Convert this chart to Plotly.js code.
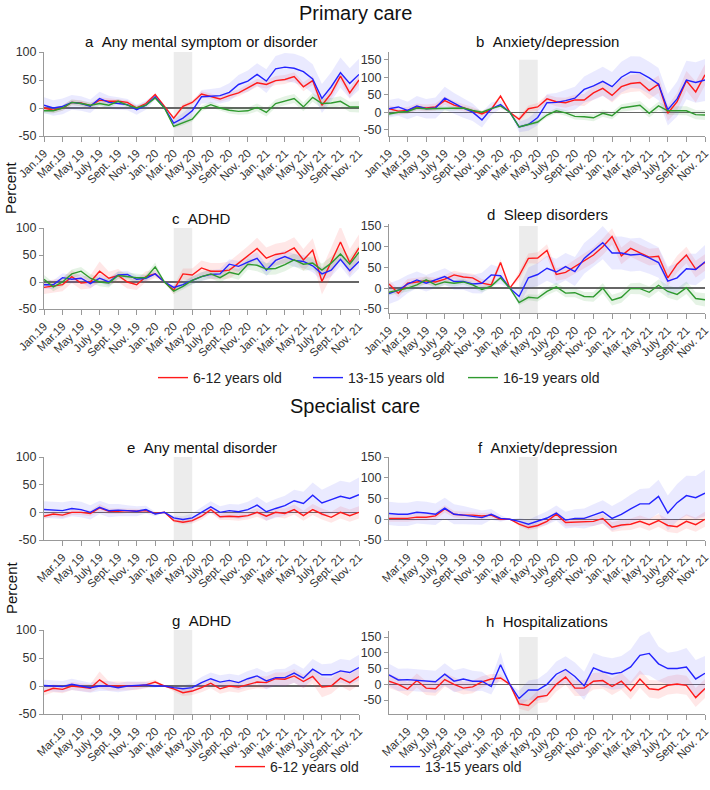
<!DOCTYPE html>
<html>
<head>
<meta charset="utf-8">
<script src="https://cdn.plot.ly/plotly-3.0.1.min.js"></script>
<style>
  body { margin: 0; background: #fff; }
  #gd { width: 710px; height: 790px; }
</style>
</head>
<body>
<div id="gd"></div>
<script>
// months Jan.19 .. Nov.21 (35 points), index 0..34
const tickLabels = ['Jan.19', 'Mar.19', 'May 19', 'July 19', 'Sept. 19', 'Nov. 19', 'Jan. 20', 'Mar. 20', 'May 20',
  'July 20', 'Sept. 20', 'Nov. 20', 'Jan. 21', 'Mar. 21', 'May 21', 'July 21', 'Sept. 21', 'Nov. 21'];
const ageGroups = ['6-12 years old', '13-15 years old', '16-19 years old'];

// a  Any mental symptom or disorder (primary care)
const aRed   = [0,-4,0,10,9,4,14,12,12,10,0,8,24,3,-18,3,10,25,21,16,22,27,36,45,42,49,51,56,38,49,5,26,57,27,50];
const aBlue  = [5,0,3,10,8,3,17,10,8,6,-3,5,20,0,-27,-18,-5,20,21,22,28,42,48,60,48,70,73,71,65,52,17,38,63,44,60];
const aGreen = [-5,-5,0,10,8,5,8,5,12,5,0,5,18,0,-33,-27,-20,-1,6,0,-4,-6,-5,1,-8,8,13,17,2,19,8,9,12,2,2];
const aRedCI   = [5,5,5,5,5,5,5,5,4,4,4,3,3,0,3,4,4,5,5,5,6,6,7,7,7,8,8,8,8,8,8,9,9,9,9];
const aBlueCI  = [14,14,14,13,13,12,12,12,11,10,9,8,5,0,7,9,11,12,13,14,16,17,19,20,21,23,25,26,26,26,26,26,27,27,28];
const aGreenCI = [5,5,5,5,5,5,5,5,4,4,4,3,3,0,3,4,4,5,5,5,6,6,6,7,7,7,8,8,8,8,9,9,9,9,10];

// b  Anxiety/depression (primary care)
const bRed   = [10,3,5,15,12,15,33,20,13,5,-5,8,46,0,-20,10,15,38,30,27,35,35,55,68,48,73,82,85,62,80,-3,30,90,58,107];
const bBlue  = [10,15,5,18,10,12,40,25,12,0,-22,10,22,0,-42,-35,-15,27,28,33,40,65,75,88,73,100,115,113,98,80,7,38,92,85,92];
const bGreen = [-5,0,2,12,10,10,12,10,12,5,0,10,18,0,-42,-35,-28,-8,4,-2,-12,-13,-16,-3,-10,12,16,20,-3,18,4,4,4,-7,-8];
const bRedCI   = [10,10,10,10,10,10,12,12,10,10,8,7,5,0,7,9,11,12,13,14,15,17,19,20,20,22,24,25,25,25,22,25,28,30,30];
const bBlueCI  = [25,25,25,28,28,30,33,30,28,25,22,18,12,0,15,18,22,25,27,30,33,37,40,42,42,44,45,46,46,46,45,50,55,58,60];
const bGreenCI = [6,6,6,6,6,6,6,6,5,5,5,4,3,0,4,5,6,7,8,8,9,9,10,10,10,11,11,12,12,12,12,13,13,13,14];

// c  ADHD (primary care)
const cRed   = [-10,-8,-5,10,-2,0,20,7,12,0,-5,10,15,0,-15,15,13,26,20,20,22,35,48,62,44,51,54,63,41,59,1,38,74,36,63];
const cBlue  = [-5,-5,8,5,7,-3,7,0,13,14,5,7,15,0,-10,-5,3,10,14,15,33,29,37,44,22,40,47,40,38,30,15,22,42,21,38];
const cGreen = [5,-9,0,15,20,7,0,-2,12,10,8,8,28,0,-17,-8,3,10,15,8,18,14,33,31,24,25,32,41,33,35,22,35,52,33,55];
const cRedCI   = [12,12,12,12,12,12,18,12,12,12,10,10,8,0,8,10,12,14,15,15,16,17,18,20,20,20,20,20,20,22,24,26,30,25,25];
const cBlueCI  = [8,8,8,8,8,8,8,8,7,7,7,6,5,0,5,6,7,8,8,9,9,10,10,11,11,11,12,12,12,12,12,12,13,13,13];
const cGreenCI = [8,8,8,8,8,8,8,8,7,7,7,6,8,0,5,6,7,8,8,9,9,10,10,11,11,11,12,12,12,12,12,12,13,13,13];

// d  Sleep disorders (primary care)
const dRed   = [10,-12,12,15,18,15,22,32,27,25,12,8,62,0,30,72,73,91,33,38,52,65,80,100,125,78,96,85,75,77,25,58,80,46,62];
const dBlue  = [-13,-5,10,20,12,20,28,16,16,10,12,32,30,0,-20,25,33,48,39,52,40,72,90,110,85,85,80,82,73,62,17,25,47,45,64];
const dGreen = [-10,-5,0,8,20,8,15,12,15,8,-3,5,25,0,-35,-22,-24,-8,3,-12,-11,-20,-21,0,-29,-22,-1,-1,-10,7,-8,-15,1,-25,-28];
const dRedCI   = [10,10,10,10,10,10,10,10,10,10,10,10,8,0,10,12,14,15,15,16,17,18,19,20,20,20,20,20,20,20,20,20,20,20,20];
const dBlueCI  = [25,25,22,20,20,20,20,20,20,22,25,25,20,0,20,25,28,30,32,33,35,37,38,40,40,40,40,40,38,37,35,35,37,38,40];
const dGreenCI = [8,8,8,8,8,8,8,8,7,7,7,6,5,0,6,7,8,9,10,10,11,11,12,12,13,13,13,14,14,14,15,15,15,15,16];

// e  Any mental disorder (specialist care)
const eRed  = [-7,-3,-5,0,0,-2,8,2,2,3,2,3,-2,0,-15,-18,-15,-7,5,-8,-7,-8,-6,0,-7,0,-2,5,-6,5,-3,-9,0,-6,0];
const eBlue = [5,4,3,7,5,0,9,3,4,3,2,5,-3,0,-10,-13,-10,0,10,0,3,1,5,13,1,7,12,21,16,31,17,23,29,25,32];
const eRedCI  = [5,5,5,5,5,5,7,5,5,4,4,3,2,0,3,4,5,6,6,6,7,7,7,8,8,8,9,9,9,10,10,10,11,11,11];
const eBlueCI = [15,15,15,14,14,13,12,12,11,10,9,7,4,0,4,6,8,9,10,11,12,13,14,15,16,17,18,20,21,23,24,26,28,29,31];

// f  Anxiety/depression (specialist care)
const fRed  = [2,2,2,5,5,8,25,12,10,10,8,10,0,0,-12,-20,-15,-5,12,-8,-7,-5,-5,2,-19,-14,-12,-5,-13,-3,-15,-18,-5,-13,0];
const fBlue = [14,12,12,17,15,12,27,12,10,7,4,12,2,0,-5,-12,-5,3,15,-2,2,2,10,18,2,12,25,37,37,55,15,40,57,52,63];
const fRedCI  = [8,8,8,8,8,8,9,8,8,7,7,6,4,0,5,6,7,8,8,9,10,10,11,12,12,13,14,14,15,15,16,16,17,17,18];
const fBlueCI = [28,28,28,27,27,26,25,24,22,20,17,13,8,0,8,11,14,16,18,20,22,24,26,28,30,32,34,36,38,40,42,45,48,52,56];

// g  ADHD (specialist care)
const gRed  = [-10,-4,-6,0,-2,-4,11,0,0,0,0,2,7,0,-5,-12,-9,-3,5,-5,0,-2,3,7,6,13,12,18,8,17,-2,0,14,6,17];
const gBlue = [1,0,-1,3,0,-3,0,0,-3,0,1,2,0,0,-3,-5,-3,6,13,7,10,6,13,18,9,15,15,23,14,30,20,20,27,24,33];
const gRedCI  = [7,7,7,7,7,7,15,8,8,7,7,6,4,0,5,6,7,8,9,9,10,10,10,11,11,11,12,12,12,13,18,14,14,15,15];
const gBlueCI = [10,10,10,10,10,9,9,9,8,8,7,5,3,0,4,6,8,10,11,12,12,13,14,14,15,15,16,17,17,18,19,20,21,22,23];

// h  Hospitalizations (specialist care)
const hRed  = [10,0,-15,12,-12,-14,15,0,-12,-8,8,17,20,0,-62,-67,-40,-35,0,23,-12,-12,10,12,-7,10,-20,17,-14,-17,-3,1,-3,-42,-13];
const hBlue = [30,14,15,13,10,8,32,10,17,10,10,-7,62,0,-45,-18,-18,0,32,47,25,-5,52,40,33,38,55,92,98,65,50,50,55,17,35];
const hRedCI  = [22,22,22,22,22,22,22,22,20,20,18,16,12,0,15,18,20,22,23,24,25,25,26,26,27,27,28,28,28,29,29,30,30,30,30];
const hBlueCI = [35,35,35,35,35,35,35,35,35,33,30,25,40,0,25,30,35,38,40,42,44,45,47,48,50,52,55,60,70,55,50,55,60,60,55];

const W = 710, H = 790;
const px = v => v / W;
const py = v => 1 - v / H;

const lineColor = { red: '#ff1a1a', blue: '#2323ff', green: '#2f9a2f' };
const bandColor = { red: 'rgba(255,70,70,0.13)', blue: 'rgba(80,80,255,0.12)', green: 'rgba(40,160,40,0.12)' };
const groupIdx = { red: 0, blue: 1, green: 2 };

const panels = [
  { title: 'a\u00a0\u00a0Any mental symptom or disorder', xd: [44, 359], yd: [52, 136], range: [-50, 100], first: 0,
    series: [['red', aRed, aRedCI], ['blue', aBlue, aBlueCI], ['green', aGreen, aGreenCI]], legend: 'legend' },
  { title: 'b\u00a0\u00a0Anxiety/depression', xd: [389, 705], yd: [52, 136], range: [-68, 172], first: 0,
    series: [['red', bRed, bRedCI], ['blue', bBlue, bBlueCI], ['green', bGreen, bGreenCI]] },
  { title: 'c\u00a0\u00a0ADHD', xd: [44, 359], yd: [228, 309], range: [-50, 100], first: 0,
    series: [['red', cRed, cRedCI], ['blue', cBlue, cBlueCI], ['green', cGreen, cGreenCI]] },
  { title: 'd\u00a0\u00a0Sleep disorders', xd: [389, 705], yd: [224, 313], range: [-60, 155], first: 0,
    series: [['red', dRed, dRedCI], ['blue', dBlue, dBlueCI], ['green', dGreen, dGreenCI]] },
  { title: 'e\u00a0\u00a0Any mental disorder', xd: [44, 359], yd: [457, 540], range: [-50, 100], first: 1,
    series: [['red', eRed, eRedCI], ['blue', eBlue, eBlueCI]], legend: 'legend2' },
  { title: 'f\u00a0\u00a0Anxiety/depression', xd: [389, 705], yd: [457, 540], range: [-50, 150], first: 1,
    series: [['red', fRed, fRedCI], ['blue', fBlue, fBlueCI]] },
  { title: 'g\u00a0\u00a0ADHD', xd: [44, 359], yd: [630, 714], range: [-50, 100], first: 1,
    series: [['red', gRed, gRedCI], ['blue', gBlue, gBlueCI]] },
  { title: 'h\u00a0\u00a0Hospitalizations', xd: [389, 705], yd: [631, 714], range: [-94, 169], first: 1,
    series: [['red', hRed, hRedCI], ['blue', hBlue, hBlueCI]] }
];

const xIdx = aRed.map((_, i) => i);
const bands = [], lines = [];
const legendStyle = { orientation: 'h', xanchor: 'left', yanchor: 'middle', traceorder: 'normal',
  font: { size: 14, color: '#222' }, entrywidth: 110, bgcolor: 'rgba(0,0,0,0)', borderwidth: 0 };
const layout = {
  width: W, height: H,
  margin: { l: 0, r: 0, t: 0, b: 0 },
  paper_bgcolor: '#fff', plot_bgcolor: '#fff',
  font: { family: 'Liberation Sans, Arial, sans-serif', color: '#222' },
  showlegend: true,
  legend: Object.assign({}, legendStyle, { x: px(153), y: py(378) }),
  legend2: Object.assign({}, legendStyle, { x: px(230), y: py(767) }),
  shapes: [],
  annotations: [
    { text: 'Primary care', xref: 'paper', yref: 'paper', x: 0.5, y: py(13), xanchor: 'center', yanchor: 'middle',
      showarrow: false, font: { size: 20, color: '#111' } },
    { text: 'Specialist care', xref: 'paper', yref: 'paper', x: 0.5, y: py(406), xanchor: 'center', yanchor: 'middle',
      showarrow: false, font: { size: 20, color: '#111' } },
    { text: 'Percent', xref: 'paper', yref: 'paper', x: px(11), y: py(188), xanchor: 'center', yanchor: 'middle',
      textangle: -90, showarrow: false, font: { size: 15, color: '#111' } },
    { text: 'Percent', xref: 'paper', yref: 'paper', x: px(11), y: py(588), xanchor: 'center', yanchor: 'middle',
      textangle: -90, showarrow: false, font: { size: 15, color: '#111' } }
  ]
};

panels.forEach((p, k) => {
  const n = k + 1;
  const xa = 'x' + (n === 1 ? '' : n), ya = 'y' + (n === 1 ? '' : n);
  const tv = [], tt = [];
  tickLabels.forEach((t, i) => { if (i >= p.first) { tv.push(i * 2); tt.push(t); } });
  const yt = p.range[1] > 140 ? [-50, 0, 50, 100, 150] : [-50, 0, 50, 100];

  layout['xaxis' + (n === 1 ? '' : n)] = {
    domain: [px(p.xd[0]), px(p.xd[1])], anchor: ya, range: [0, 34],
    tickvals: tv, ticktext: tt, tickangle: -45, tickfont: { size: 11.5, color: '#333' },
    ticklabeloverflow: 'allow',
    showline: true, linecolor: '#999', linewidth: 1, ticks: 'outside', ticklen: 5, tickcolor: '#999',
    showgrid: false, zeroline: false, fixedrange: true
  };
  layout['yaxis' + (n === 1 ? '' : n)] = {
    domain: [py(p.yd[1]), py(p.yd[0])], anchor: xa, range: p.range,
    tickvals: yt, ticktext: yt.map(String), tickfont: { size: 12.5, color: '#333' },
    showline: true, linecolor: '#999', linewidth: 1, ticks: 'outside', ticklen: 4, tickcolor: '#999',
    showgrid: false, zeroline: true, zerolinecolor: '#666', zerolinewidth: 1.4, fixedrange: true
  };

  // lockdown period shading Mar.20 - May 20
  layout.shapes.push({ type: 'rect', xref: xa, yref: ya, x0: 14, x1: 16, y0: p.range[0],
    y1: Math.min(150, p.range[1]), fillcolor: '#ececec', line: { width: 0 }, layer: 'below' });

  layout.annotations.push({ text: p.title, xref: 'paper', yref: 'paper',
    x: px((p.xd[0] + p.xd[1]) / 2), y: py(p.yd[0] - 10), xanchor: 'center', yanchor: 'middle', showarrow: false,
    font: { size: 15, color: '#111' } });

  p.series.forEach(([col, vals, ci]) => {
    bands.push({ x: xIdx, y: vals.map((v, i) => v + ci[i]), xaxis: xa, yaxis: ya, type: 'scatter',
      mode: 'lines', line: { width: 0, color: bandColor[col] }, hoverinfo: 'skip', showlegend: false });
    bands.push({ x: xIdx, y: vals.map((v, i) => v - ci[i]), xaxis: xa, yaxis: ya, type: 'scatter',
      mode: 'lines', line: { width: 0, color: bandColor[col] }, fill: 'tonexty', fillcolor: bandColor[col],
      hoverinfo: 'skip', showlegend: false });
    const tr = { x: xIdx, y: vals, xaxis: xa, yaxis: ya, type: 'scatter', mode: 'lines',
      name: ageGroups[groupIdx[col]], line: { color: lineColor[col], width: 1.4 }, showlegend: false };
    if (p.legend) { tr.showlegend = true; tr.legend = p.legend; }
    lines.push(tr);
  });
});

Plotly.newPlot('gd', bands.concat(lines), layout, { displayModeBar: false, staticPlot: true });
</script>
</body>
</html>
